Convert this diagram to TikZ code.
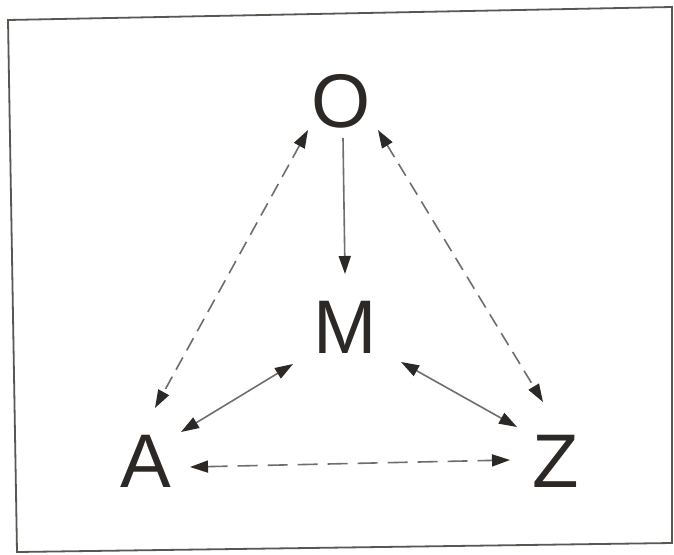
\documentclass[tikz,border=0pt]{standalone}
\usepackage{fontspec}
\setmainfont{Liberation Sans}
\usetikzlibrary{arrows.meta}
\definecolor{linegray}{HTML}{6E6E6E}
\definecolor{tipdark}{HTML}{2B2826}
\definecolor{framegray}{HTML}{5A5752}
\begin{document}
\begin{tikzpicture}[x=1pt,y=-1pt,
  letter/.style={inner sep=0pt,text height=55pt,text depth=0pt,
    font=\fontsize{76}{76}\selectfont,text=tipdark},
  conn/.style={draw=linegray,line width=1.6pt,
    arrows={-Triangle[length=18pt,width=12pt,color=tipdark]}},
  bothconn/.style={conn,arrows={Triangle[length=18pt,width=12pt,color=tipdark]-Triangle[length=18pt,width=12pt,color=tipdark]}},
  dashconn/.style={bothconn,dash pattern=on 14pt off 8pt},
  frameline/.style={draw=framegray,line width=1.8pt}]
\useasboundingbox (0,0) rectangle (674,554);
\fill[white] (0,0) rectangle (674,554);
\draw[frameline] (8,20) -- (672,7) -- (672,543) -- (17,552) -- cycle;
\node[letter] (O) at (341,100) {O};
\node[letter] (M) at (345,326) {M};
\node[letter] (A) at (146,460) {A};
\node[letter] (Z) at (556,460) {Z};
\draw[conn] ([shift={(2,38)}]O.center) -- ([shift={(0,-52)}]M.center);
\draw[dashconn] ([shift={(-33,30)}]O.center) -- ([shift={(9,-52)}]A.center);
\draw[dashconn] ([shift={(37,30)}]O.center) -- ([shift={(-13,-58)}]Z.center);
\draw[bothconn] ([shift={(-52,38)}]M.center) -- ([shift={(35,-28)}]A.center);
\draw[bothconn] ([shift={(56,36)}]M.center) -- ([shift={(-39,-33)}]Z.center);
\draw[bothconn,dash pattern=on 20pt off 10pt] ([shift={(44,7)}]A.center) -- ([shift={(-46,0)}]Z.center);
\end{tikzpicture}
\end{document}
